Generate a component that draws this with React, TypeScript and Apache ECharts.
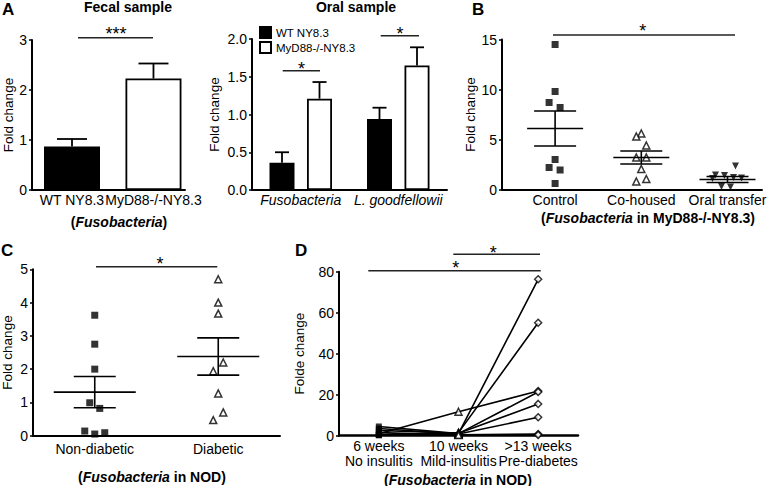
import React, { useEffect, useRef } from "react";
import * as echarts from "echarts";

const FONT = "'Liberation Sans', Arial, Helvetica, sans-serif";

// ---- Panel A: fecal sample ----
const fecalCategories = ["WT NY8.3", "MyD88-/-NY8.3"];
const fecalMeans = [0.87, 2.23];
const fecalErrors = [0.15, 0.3];

// ---- Panel A: oral sample ----
const oralCategories = ["Fusobacteria", "L. goodfellowii"];
const oralWT = [0.36, 0.94];
const oralWTErr = [0.14, 0.15];
const oralKO = [1.21, 1.65];
const oralKOErr = [0.22, 0.24];

// ---- Panel B ----
const bCategories = ["Control", "Co-housed", "Oral transfer"];
const bControl = [14.5, 9.8, 8.7, 8.2, 3.0, 2.2, 1.95, 0.6];
const bCohoused = [5.6, 5.3, 4.4, 3.2, 3.2, 2.05, 0.8, 1.05];
const bOral = [2.35, 1.45, 1.4, 1.1, 1.2, 1.15, 0.3, 0.25];
const bMean = [6.1, 3.2, 1.0];
const bSem = [1.75, 0.65, 0.3];
const bControlJitter = [0, 0, -6, 5, 0, -6, 5, 0];
const bCohousedJitter = [0, -5, 5, -5, 5, 0, -5, 5];
const bOralJitter = [8, -12, -3, -15, 6, 14, -6, 3];

// ---- Panel C ----
const cCategories = ["Non-diabetic", "Diabetic"];
const cNonDiabetic = [3.62, 2.75, 2.0, 0.99, 0.82, 0.14, 0.05, 0.09];
const cDiabetic = [4.7, 4.0, 3.67, 2.2, 1.94, 1.27, 0.7, 0.47];
const cMean = [1.31, 2.38];
const cSem = [0.47, 0.56];
const cNonJitter = [0, 0, 0, -5, 5, -10, 0, 10];
const cDiaJitter = [0, 0, 0, 5, -5, 0, 5, -5];

// ---- Panel D ----
const dCategories = ["6 weeks\nNo insulitis", "10 weeks\nMild-insulitis", ">13 weeks\nPre-diabetes"];
const d6weeks = [1.0, 4.5, 0.5, 0.3, 2.5, 3.5, 0.2, 1.5];
const d10weeks = [11.7, 1.0, 1.5, 1.0, 1.2, 0.8, 0.5, 0.3];
const d13weeks = [21.8, 76.3, 55.1, 21.3, 15.5, 9.0, 0.8, 0.4];

const BLACK = "#000";

function errorBarRender(offsetPx: number, capHalf: number) {
  return (_p: any, api: any) => {
    const x = api.value(0);
    const y = api.value(1);
    const e = api.value(2);
    const base = api.coord([x, y]);
    const top = api.coord([x, y + e]);
    const cx = base[0] + offsetPx;
    const style = { stroke: BLACK, lineWidth: 1.8 };
    return {
      type: "group",
      children: [
        { type: "line", shape: { x1: cx, y1: base[1], x2: cx, y2: top[1] }, style },
        { type: "line", shape: { x1: cx - capHalf, y1: top[1], x2: cx + capHalf, y2: top[1] }, style },
      ],
    };
  };
}

function meanSemRender(meanHalf: number, capHalf: number) {
  return (_p: any, api: any) => {
    const x = api.value(0);
    const m = api.value(1);
    const s = api.value(2);
    const pm = api.coord([x, m]);
    const pu = api.coord([x, m + s]);
    const pl = api.coord([x, m - s]);
    const style = { stroke: BLACK, lineWidth: 1.6 };
    return {
      type: "group",
      children: [
        { type: "line", shape: { x1: pm[0] - meanHalf, y1: pm[1], x2: pm[0] + meanHalf, y2: pm[1] }, style },
        { type: "line", shape: { x1: pm[0], y1: pu[1], x2: pm[0], y2: pl[1] }, style },
        { type: "line", shape: { x1: pm[0] - capHalf, y1: pu[1], x2: pm[0] + capHalf, y2: pu[1] }, style },
        { type: "line", shape: { x1: pm[0] - capHalf, y1: pl[1], x2: pm[0] + capHalf, y2: pl[1] }, style },
      ],
    };
  };
}

const axisLineStyle = { show: true, onZero: false, lineStyle: { color: BLACK, width: 2 } };
const labelBase = { color: BLACK, fontFamily: FONT, fontSize: 14 };

function yAxisCfg(grid: number, min: number, max: number, interval: number, name: string, nameGap: number, fmt?: (v: number) => string) {
  return {
    type: "value",
    gridIndex: grid,
    min,
    max,
    interval,
    name,
    nameLocation: "middle",
    nameGap,
    nameRotate: 90,
    nameTextStyle: { color: BLACK, fontFamily: FONT, fontSize: 13.5 },
    axisLine: axisLineStyle,
    axisTick: { show: true, length: 3, lineStyle: { color: BLACK, width: 1.5 } },
    axisLabel: { ...labelBase, margin: 5, formatter: fmt },
    splitLine: { show: false },
  };
}

function text(x: number, y: number, str: string, size: number, weight = "normal", align = "center", extra: any = {}) {
  return {
    type: "text",
    x,
    y,
    silent: true,
    style: {
      text: str,
      fontFamily: FONT,
      fontSize: size,
      fontWeight: weight,
      fill: BLACK,
      align,
      verticalAlign: "middle",
      textAlign: align,
      textVerticalAlign: "middle",
      ...extra,
    },
  };
}

function richSubtitle(x: number, y: number, before: string, italic: string, after: string) {
  return {
    type: "text",
    x,
    y,
    silent: true,
    style: {
      text: `{b|${before}}{i|${italic}}{b|${after}}`,
      align: "center",
      verticalAlign: "middle",
      textAlign: "center",
      textVerticalAlign: "middle",
      fill: BLACK,
      rich: {
        b: { fontFamily: FONT, fontSize: 14, fontWeight: "bold", fill: BLACK, color: BLACK },
        i: { fontFamily: FONT, fontSize: 14, fontWeight: "bold", fontStyle: "italic", fill: BLACK, color: BLACK },
      },
    },
  };
}

function bracket(x1: number, x2: number, y: number) {
  return { type: "line", silent: true, shape: { x1, y1: y, x2, y2: y }, style: { stroke: "#222", lineWidth: 1.5 } };
}

function buildOption() {
  const openStyle = { color: "#fff", borderColor: BLACK, borderWidth: 1.5 };
  const fillStyle = { color: BLACK };

  const series: any[] = [];

  // A fecal bars (value x axis, index 0)
  series.push({
    type: "bar",
    name: "fecal",
    xAxisIndex: 0,
    yAxisIndex: 0,
    barWidth: 56,
    data: fecalMeans.map((v, i) => ({
      value: [i + 1, v],
      itemStyle: { color: i === 0 ? BLACK : "#fff", borderColor: BLACK, borderWidth: 1.8 },
    })),
  });
  series.push({
    type: "custom",
    name: "fecalErr",
    xAxisIndex: 0,
    yAxisIndex: 0,
    renderItem: errorBarRender(0, 15),
    encode: { x: 0, y: 1 },
    data: fecalMeans.map((v, i) => [i + 1, v, fecalErrors[i]]),
    z: 3,
  });

  // A oral bars
  series.push({
    type: "bar",
    name: "WT NY8.3",
    xAxisIndex: 1,
    yAxisIndex: 1,
    barWidth: 25,
    barGap: "50%",
    data: oralWT,
    itemStyle: { color: BLACK, borderColor: BLACK, borderWidth: 1.8 },
  });
  series.push({
    type: "bar",
    name: "MyD88-/-NY8.3",
    xAxisIndex: 1,
    yAxisIndex: 1,
    barWidth: 25,
    barGap: "50%",
    data: oralKO,
    itemStyle: { color: "#fff", borderColor: BLACK, borderWidth: 1.8 },
  });
  series.push({
    type: "custom",
    name: "oralWTErr",
    xAxisIndex: 1,
    yAxisIndex: 1,
    renderItem: errorBarRender(-18.75, 7),
    encode: { x: 0, y: 1 },
    data: oralWT.map((v, i) => [i, v, oralWTErr[i]]),
    z: 3,
  });
  series.push({
    type: "custom",
    name: "oralKOErr",
    xAxisIndex: 1,
    yAxisIndex: 1,
    renderItem: errorBarRender(18.75, 7),
    encode: { x: 0, y: 1 },
    data: oralKO.map((v, i) => [i, v, oralKOErr[i]]),
    z: 3,
  });

  // B scatter
  const bGroups = [
    { vals: bControl, jit: bControlJitter, symbol: "rect", size: 7, style: fillStyle, rot: 0 },
    { vals: bCohoused, jit: bCohousedJitter, symbol: "triangle", size: 7, style: openStyle, rot: 0 },
    { vals: bOral, jit: bOralJitter, symbol: "triangle", size: 7, style: fillStyle, rot: 180 },
  ];
  bGroups.forEach((g, gi) => {
    series.push({
      type: "scatter",
      name: "b" + gi,
      xAxisIndex: 2,
      yAxisIndex: 2,
      symbol: g.symbol,
      symbolSize: g.size,
      symbolRotate: g.rot,
      itemStyle: g.style,
      data: g.vals.map((v, i) => ({ value: [gi + 1, v], symbolOffset: [g.jit[i], 0] })),
      z: 2,
    });
  });
  series.push({
    type: "custom",
    name: "bMean",
    xAxisIndex: 2,
    yAxisIndex: 2,
    renderItem: meanSemRender(28, 21),
    encode: { x: 0, y: 1 },
    data: bMean.map((m, i) => [i + 1, m, bSem[i]]),
    z: 3,
  });

  // C scatter
  series.push({
    type: "scatter",
    name: "cNon",
    xAxisIndex: 3,
    yAxisIndex: 3,
    symbol: "rect",
    symbolSize: 7,
    itemStyle: fillStyle,
    data: cNonDiabetic.map((v, i) => ({ value: [0, v], symbolOffset: [cNonJitter[i], 0] })),
  });
  series.push({
    type: "scatter",
    name: "cDia",
    xAxisIndex: 3,
    yAxisIndex: 3,
    symbol: "triangle",
    symbolSize: 7,
    itemStyle: openStyle,
    data: cDiabetic.map((v, i) => ({ value: [1, v], symbolOffset: [cDiaJitter[i], 0] })),
  });
  series.push({
    type: "custom",
    name: "cMean",
    xAxisIndex: 3,
    yAxisIndex: 3,
    renderItem: meanSemRender(41, 21),
    encode: { x: 0, y: 1 },
    data: cMean.map((m, i) => [i, m, cSem[i]]),
    z: 3,
  });

  // D lines per mouse
  d6weeks.forEach((v, i) => {
    series.push({
      type: "line",
      name: "mouse" + i,
      xAxisIndex: 4,
      yAxisIndex: 4,
      showSymbol: false,
      symbol: "none",
      lineStyle: { color: BLACK, width: 1.6 },
      data: [v, d10weeks[i], d13weeks[i]],
      z: 1,
    });
  });
  const dMarkers = [
    { vals: d6weeks, symbol: "rect", size: 6, style: fillStyle },
    { vals: d10weeks, symbol: "triangle", size: 7, style: openStyle },
    { vals: d13weeks, symbol: "diamond", size: 7, style: openStyle },
  ];
  dMarkers.forEach((g, gi) => {
    series.push({
      type: "scatter",
      name: "d" + gi,
      xAxisIndex: 4,
      yAxisIndex: 4,
      symbol: g.symbol,
      symbolSize: g.size,
      itemStyle: g.style,
      data: g.vals.map((v) => [gi, v]),
      z: 3,
    });
  });

  const catX = (grid: number, data: string[], margin: number, extra: any = {}) => ({
    type: "category",
    gridIndex: grid,
    data,
    axisLine: axisLineStyle,
    axisTick: { show: false },
    axisLabel: { ...labelBase, margin, interval: 0, ...extra },
    splitLine: { show: false },
  });

  return {
    animation: false,
    backgroundColor: "#fff",
    textStyle: { fontFamily: FONT },
    legend: {
      data: ["WT NY8.3", "MyD88-/-NY8.3"],
      left: 259,
      top: 26,
      orient: "vertical",
      itemWidth: 11,
      itemHeight: 11,
      itemGap: 2,
      icon: "rect",
      selectedMode: false,
      padding: 0,
      textStyle: { color: BLACK, fontFamily: FONT, fontSize: 11.5, lineHeight: 12 },
    },
    grid: [
      { left: 32, top: 40, width: 153, height: 150, outerBoundsMode: "none" },
      { left: 252, top: 39, width: 195, height: 151, outerBoundsMode: "none" },
      { left: 502, top: 39.5, width: 260, height: 150, outerBoundsMode: "none" },
      { left: 33, top: 269.3, width: 247, height: 166.4, outerBoundsMode: "none" },
      { left: 339, top: 271.7, width: 239, height: 164, outerBoundsMode: "none" },
    ],
    xAxis: [
      {
        type: "value",
        gridIndex: 0,
        min: 0.509,
        max: 2.387,
        axisLine: axisLineStyle,
        axisTick: { show: false },
        splitLine: { show: false },
        axisLabel: {
          ...labelBase,
          margin: 3,
          customValues: [1, 2],
          formatter: (v: number) => fecalCategories[Math.round(v) - 1] ?? "",
        },
      },
      catX(1, oralCategories, 3, { fontStyle: "italic" }),
      {
        type: "value",
        gridIndex: 2,
        min: 0.384,
        max: 3.4,
        axisLine: axisLineStyle,
        axisTick: { show: false },
        splitLine: { show: false },
        axisLabel: {
          ...labelBase,
          margin: 3,
          customValues: [1, 2, 3],
          formatter: (v: number) => bCategories[Math.round(v) - 1] ?? "",
        },
      },
      catX(3, cCategories, 6),
      {
        ...catX(4, dCategories, 3, { lineHeight: 15 }),
        axisLine: { show: true, onZero: false, lineStyle: { color: BLACK, width: 2.5 } },
      },
    ],
    yAxis: [
      yAxisCfg(0, 0, 3, 1, "Fold change", 16),
      yAxisCfg(1, 0, 2, 0.5, "Fold change", 31, (v: number) => v.toFixed(1)),
      yAxisCfg(2, 0, 15, 5, "Fold change", 16),
      yAxisCfg(3, 0, 5, 1, "Fold change", 19),
      yAxisCfg(4, 0, 80, 20, "Folde change", 33),
    ],
    series,
    graphic: [
      // panel letters
      text(2, 9, "A", 17, "bold", "left"),
      text(472, 9, "B", 17, "bold", "left"),
      text(1, 250, "C", 17, "bold", "left"),
      text(295, 250, "D", 17, "bold", "left"),
      // titles
      text(128, 6.5, "Fecal sample", 14, "bold"),
      text(356, 6.5, "Oral sample", 14, "bold"),
      // subtitles
      richSubtitle(119, 221.5, "(", "Fusobacteria", ")"),
      richSubtitle(648, 217.5, "(", "Fusobacteria", " in MyD88-/-NY8.3)"),
      richSubtitle(152, 477, "(", "Fusobacteria", " in NOD)"),
      richSubtitle(458, 479.5, "(", "Fusobacteria", " in NOD)"),
      // significance brackets
      bracket(78, 153, 37.7),
      text(116, 34, "***", 18),
      bracket(282.7, 320, 70.7),
      text(301.5, 69, "*", 18),
      bracket(380.7, 419, 35.7),
      text(400, 34, "*", 18),
      bracket(553, 735, 35),
      text(642.7, 31, "*", 18),
      bracket(96, 217.3, 266.7),
      text(160, 264, "*", 18),
      bracket(453.3, 540, 254.3),
      text(493.3, 252.5, "*", 18),
      bracket(368.3, 540.7, 270.7),
      text(455.7, 267.5, "*", 18),
    ],
  };
}

export default function App() {
  const ref = useRef<HTMLDivElement>(null);
  useEffect(() => {
    if (!ref.current) return;
    const chart = echarts.init(ref.current, null, { renderer: "svg" });
    chart.setOption(buildOption() as any);
    return () => chart.dispose();
  }, []);
  return (
    <div
      ref={ref}
      style={{ position: "fixed", left: 0, top: 0, width: 768, height: 486, background: "#fff" }}
    />
  );
}
